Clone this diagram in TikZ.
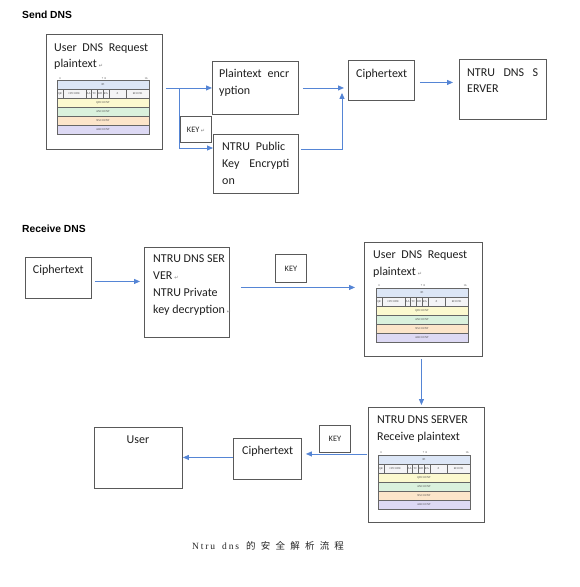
\documentclass[tikz,border=0pt]{standalone}
\usepackage{fontspec}
\setmainfont{Carlito}
\newfontfamily\headfont{Liberation Sans}
\newfontfamily\tabfont{Liberation Serif}
\newfontfamily\djv{DejaVu Sans}
\newfontfamily\capser[LetterSpace=20]{Liberation Serif}
\newfontfamily\capcjk[LetterSpace=55]{Noto Sans CJK SC}
\usetikzlibrary{arrows.meta,calc}
\definecolor{boxgray}{HTML}{595959}
\definecolor{arrowblue}{HTML}{5585D5}
\definecolor{rowID}{HTML}{DCE6F6}
\definecolor{rowFL}{HTML}{F4F4F6}
\definecolor{rowQD}{HTML}{FCF9CF}
\definecolor{rowAN}{HTML}{DAF1DD}
\definecolor{rowNS}{HTML}{FCE5CA}
\definecolor{rowAR}{HTML}{DDD9F4}
\newcommand\retsym{\,{\djv\fontsize{5}{5}\selectfont\textcolor{gray}{↵}}}
\newcommand\fst{\rule{0pt}{8.4pt}}
\tikzset{
  box/.style={draw=boxgray, line width=0.9pt, fill=white, anchor=north west, inner sep=0pt},
  txt/.style={anchor=north west, inner sep=0pt, align=left, font=\fontsize{12}{16.7}\selectfont, text=black!88},
  keytxt/.style={inner sep=0pt, font=\fontsize{8.3}{9}\selectfont, text=black!85},
  head/.style={anchor=base west, inner sep=0pt, font=\headfont\bfseries\fontsize{10.3}{12}\selectfont},
  arr/.style={draw=arrowblue, line width=0.9pt, -{Triangle[length=6pt,width=5pt]}},
  tcell/.style={draw=black!60, line width=0.3pt},
  tlab/.style={inner sep=0pt, font=\tabfont\fontsize{2.8}{3}\selectfont, text=black!75},
  dnstab/.pic={
    \path[tcell,fill=rowID] (0,0) rectangle (92,9);
    \node[tlab] at (46,4.5) {ID};
    \foreach \a/\b/\lab in {0/1/QR,1/5/OPCODE,5/6/AA,6/7/TC,7/8/RD,8/9/RA,9/12/Z,12/16/RCODE}{
      \path[tcell,fill=rowFL] (\a*5.75,9) rectangle (\b*5.75,18);
      \node[tlab] at ({(\a+\b)*2.875},13.5) {\lab};
    }
    \foreach \r/\c/\lab in {2/rowQD/QDCOUNT,3/rowAN/ANCOUNT,4/rowNS/NSCOUNT,5/rowAR/ARCOUNT}{
      \path[tcell,fill=\c] (0,\r*9) rectangle (92,\r*9+9);
      \node[tlab] at (46,\r*9+4.5) {\lab};
    }
    \node[tlab] at (3,-2.3) {0};
    \node[tlab] at (47,-2.3) {7\ \ 8};
    \node[tlab] at (89,-2.3) {16};
  }
}
\begin{document}
\begin{tikzpicture}[x=1pt,y=-1pt]
\useasboundingbox[fill=white] (0,0) rectangle (580,587);

% ---------- Send DNS ----------
\node[head] (hsend) at (22,18.3) {Send DNS};

\node[box,minimum width=116pt,minimum height=115pt] (b1) at (46,34) {};
\node[txt] (t1) at (54,42.6) {\fst\makebox[94pt][s]{User DNS Request}\\plaintext\retsym};
\pic (tab1) at (57,80.5) {dnstab};

\node[box,minimum width=86pt,minimum height=53pt] (b2) at (212,61) {};
\node[txt] (t2) at (219,68.9) {\fst\makebox[70pt][s]{Plaintext encr}\\yption};

\node[box,minimum width=31pt,minimum height=26pt] (k1) at (180,116) {};
\node[keytxt] (kt1) at (k1.center) {KEY\retsym};

\node[box,minimum width=85pt,minimum height=59pt] (b3) at (213,134) {};
\node[txt] (t3) at (222,142.3) {\fst\makebox[63pt][s]{NTRU Public}\\\makebox[67pt][s]{Key Encrypti}\\on};

\node[box,minimum width=66pt,minimum height=40pt] (c1) at (348,60) {};
\node[txt] (tc1) at (356,68.9) {\fst Ciphertext};

\node[box,minimum width=87pt,minimum height=60pt] (n1) at (459,59) {};
\node[txt] (tn1) at (467,67.6) {\fst\makebox[71pt][s]{NTRU DNS S}\\ERVER};

\draw[arr] ($(b1.east |- b2.west)+(3,0)$) -- (b2.west);
\draw[arr] ($(b1.east |- b2.west)+(3,0)$) -- ++(14,0) |- ($(b3.north west)+(0,14)$);
\draw[arr] ($(b2.east)+(4,0)$) -- ($(c1.west |- b2.east)+(-4,0)$);
\coordinate (k1tip) at ($(c1.south west)+(-6,-8)$);
\draw[arr] ($(b3.north east)+(2,15)$) -| (k1tip);
\draw[arr] ($(c1.east)+(5,2)$) -- ($(n1.west |- c1.east)+(-6,2)$);

% ---------- Receive DNS ----------
\node[head] (hrecv) at (22,232) {Receive DNS};

\node[box,minimum width=66pt,minimum height=41pt] (c2) at (25,257) {};
\node[txt] (tc2) at (32.7,264.9) {\fst Ciphertext};

\node[box,minimum width=85pt,minimum height=90pt] (n2) at (144,247) {};
\node[txt] (tn2) at (153,254.3) {\fst NTRU DNS SER\\VER\retsym\\NTRU Private\\key decryption\retsym};

\node[box,minimum width=31pt,minimum height=28pt] (k2) at (275,254) {};
\node[keytxt] (kt2) at (k2.center) {KEY};

\node[box,minimum width=118pt,minimum height=114pt] (u2) at (364,242) {};
\node[txt] (tu2) at (373,249.9) {\fst\makebox[94pt][s]{User DNS Request}\\plaintext\retsym};
\pic (tab2) at (376,288) {dnstab};

\node[box,minimum width=116pt,minimum height=115pt] (n3) at (368,407) {};
\node[txt] (tn3) at (377,414.9) {\fst NTRU DNS SERVER\\Receive plaintext};
\pic (tab3) at (378,455) {dnstab};

\node[box,minimum width=31pt,minimum height=27pt] (k3) at (319,425) {};
\node[keytxt] (kt3) at (k3.center) {KEY};

\node[box,minimum width=68pt,minimum height=41pt] (c3) at (233,438) {};
\node[txt] (tc3) at (242,445.9) {\fst Ciphertext};

\node[box,minimum width=88pt,minimum height=61pt] (us) at (94,427) {};
\node[anchor=base, inner sep=0pt, font=\fontsize{12}{16.7}\selectfont, text=black!88] (tus) at (138,443.3) {User};

\draw[arr] ($(c2.east)+(3,3.5)$) -- ($(n2.west |- c2.east)+(-4,3.5)$);
\draw[arr] ($(n2.east)+(11,-5)$) -- ($(u2.west |- n2.east)+(-9,-5)$);
\draw[arr] ($(u2.south)+(-2,2)$) -- ($(n3.north -| u2.south)+(-2,-2)$);
\draw[arr] ($(n3.west)+(-1,-11)$) -- ($(c3.east |- n3.west)+(4,-11)$);
\draw[arr] ($(c3.west)+(0,-1.5)$) -- ($(us.east |- c3.west)+(0,-1.5)$);

% ---------- caption ----------
\node[anchor=base, inner sep=0pt, text=black!85] (cap) at (268,549)
  {{\capser\fontsize{9.5}{10}\selectfont Ntru\hspace{7pt}dns}\hspace{7pt}{\capcjk\fontsize{9.5}{10}\selectfont 的安全解析流程}};
\end{tikzpicture}
\end{document}
